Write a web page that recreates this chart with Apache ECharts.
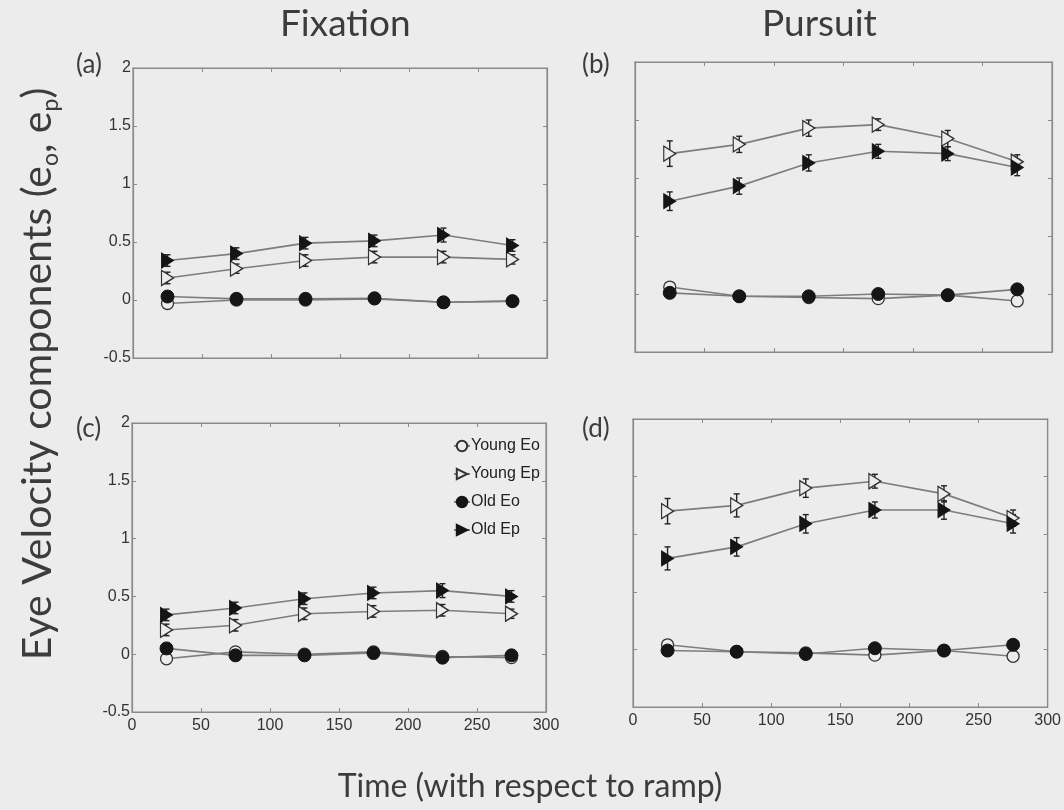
<!DOCTYPE html>
<html>
<head>
<meta charset="utf-8">
<script src="https://cdn.jsdelivr.net/npm/echarts@6/dist/echarts.min.js"></script>
<style>
html,body{margin:0;padding:0;background:#ececec;}
#chart{width:1064px;height:810px;}
</style>
</head>
<body>
<div id="chart"></div>
<script>
// ---- data ----
const times = [25, 75, 125, 175, 225, 275];
const yTicks = [-0.5, 0, 0.5, 1, 1.5, 2];
const seriesNames = ['Young Eo', 'Young Ep', 'Old Eo', 'Old Ep'];

// (a) Fixation, top
const a_youngEo = [-0.03, 0.00, 0.00, 0.01, -0.02, -0.01];
const a_youngEp = [0.19, 0.27, 0.34, 0.37, 0.37, 0.35];
const a_oldEo   = [0.03, 0.01, 0.01, 0.015, -0.02, -0.01];
const a_oldEp   = [0.34, 0.40, 0.49, 0.51, 0.56, 0.47];
const a_errYoungEp = [0.05, 0.04, 0.05, 0.05, 0.05, 0.04];
const a_errOldEp   = [0.05, 0.05, 0.05, 0.05, 0.06, 0.05];

// (b) Pursuit, top
const b_youngEo = [0.06, -0.02, -0.03, -0.04, -0.01, -0.06];
const b_youngEp = [1.21, 1.29, 1.43, 1.46, 1.34, 1.14];
const b_oldEo   = [0.01, -0.02, -0.02, 0.00, -0.01, 0.04];
const b_oldEp   = [0.80, 0.93, 1.13, 1.23, 1.21, 1.09];
const b_errYoungEp = [0.11, 0.07, 0.07, 0.05, 0.07, 0.06];
const b_errOldEp   = [0.08, 0.07, 0.07, 0.06, 0.06, 0.07];

// (c) Fixation, bottom
const c_youngEo = [-0.04, 0.02, 0.00, 0.02, -0.02, -0.03];
const c_youngEp = [0.21, 0.25, 0.35, 0.37, 0.38, 0.35];
const c_oldEo   = [0.05, -0.01, -0.01, 0.01, -0.03, -0.01];
const c_oldEp   = [0.34, 0.40, 0.48, 0.53, 0.55, 0.50];
const c_errYoungEp = [0.05, 0.05, 0.05, 0.05, 0.05, 0.04];
const c_errOldEp   = [0.05, 0.05, 0.05, 0.05, 0.06, 0.05];

// (d) Pursuit, bottom
const d_youngEo = [0.04, -0.02, -0.03, -0.05, -0.01, -0.06];
const d_youngEp = [1.20, 1.25, 1.40, 1.46, 1.35, 1.14];
const d_oldEo   = [-0.01, -0.02, -0.04, 0.01, -0.01, 0.04];
const d_oldEp   = [0.79, 0.89, 1.09, 1.21, 1.21, 1.09];
const d_errYoungEp = [0.11, 0.10, 0.08, 0.06, 0.07, 0.07];
const d_errOldEp   = [0.10, 0.08, 0.08, 0.07, 0.08, 0.08];

const panels = [
  {label:'(a)', yo:a_youngEo, yp:a_youngEp, oo:a_oldEo, op:a_oldEp, eyp:a_errYoungEp, eop:a_errOldEp},
  {label:'(b)', yo:b_youngEo, yp:b_youngEp, oo:b_oldEo, op:b_oldEp, eyp:b_errYoungEp, eop:b_errOldEp},
  {label:'(c)', yo:c_youngEo, yp:c_youngEp, oo:c_oldEo, op:c_oldEp, eyp:c_errYoungEp, eop:c_errOldEp},
  {label:'(d)', yo:d_youngEo, yp:d_youngEp, oo:d_oldEo, op:d_oldEp, eyp:d_errYoungEp, eop:d_errOldEp}
];

// ---- layout / style ----
const BG = '#ececec';
const grids = [
  {left:133, top:68, width:414, height:290},
  {left:635, top:62, width:417, height:290},
  {left:132, top:423, width:414, height:289},
  {left:633, top:419, width:415, height:288}
];
const tickFont = '"Liberation Sans Narrow","Liberation Sans",Arial,sans-serif';
const triPath = 'path://M0,0L10,6L0,12Z';

const chart = echarts.init(document.getElementById('chart'), null, {renderer:'canvas'});

const xAxes = [], yAxes = [], series = [];
grids.forEach((g, i) => {
  const showX = i >= 2, showY = (i % 2) === 0;
  const baseX = {
    type:'value', gridIndex:i, min:0, max:300, interval:50,
    axisLine:{show:true, onZero:false, lineStyle:{color:'#8a8a8a', width:1.2}},
    splitLine:{show:false}
  };
  xAxes.push(Object.assign({}, baseX, {
    position:'bottom',
    axisTick:{show:true, inside:true, length:4, lineStyle:{color:'#8a8a8a'}},
    axisLabel:{show:showX, color:'#333', fontFamily:tickFont, fontSize:16, margin:6}
  }));
  xAxes.push(Object.assign({}, baseX, {
    position:'top',
    axisTick:{show:true, inside:true, length:4, lineStyle:{color:'#8a8a8a'}},
    axisLabel:{show:false}
  }));
  const baseY = {
    type:'value', gridIndex:i, min:-0.5, max:2, interval:0.5,
    axisLine:{show:true, onZero:false, lineStyle:{color:'#8a8a8a', width:1.2}},
    splitLine:{show:false}
  };
  yAxes.push(Object.assign({}, baseY, {
    position:'left',
    axisTick:{show:true, inside:true, length:4, lineStyle:{color:'#8a8a8a'}},
    axisLabel:{show:showY, color:'#333', fontFamily:tickFont, fontSize:16, margin:2,
      formatter: v => String(v)}
  }));
  yAxes.push(Object.assign({}, baseY, {
    position:'right',
    axisTick:{show:true, inside:true, length:4, lineStyle:{color:'#8a8a8a'}},
    axisLabel:{show:false}
  }));
});

function errRender(params, api) {
  const x = api.value(0), y = api.value(1), e = api.value(2);
  const hi = api.coord([x, y + e]);
  const lo = api.coord([x, y - e]);
  const w = 3;
  const st = {stroke:'#222', lineWidth:1.4};
  return {type:'group', children:[
    {type:'line', shape:{x1:hi[0], y1:hi[1], x2:lo[0], y2:lo[1]}, style:st},
    {type:'line', shape:{x1:hi[0]-w, y1:hi[1], x2:hi[0]+w, y2:hi[1]}, style:st},
    {type:'line', shape:{x1:lo[0]-w, y1:lo[1], x2:lo[0]+w, y2:lo[1]}, style:st}
  ]};
}

panels.forEach((p, i) => {
  const xi = i * 2, yi = i * 2;
  const pair = arr => times.map((t, k) => [t, arr[k]]);
  const triple = (arr, err) => times.map((t, k) => [t, arr[k], err[k]]);
  [[p.yp, p.eyp], [p.op, p.eop]].forEach(([v, e]) => {
    series.push({
      type:'custom', xAxisIndex:xi, yAxisIndex:yi, renderItem:errRender,
      data:triple(v, e), encode:{x:0, y:1}, z:1, silent:true
    });
  });
  const lineBase = {type:'line', xAxisIndex:xi, yAxisIndex:yi, z:3,
    lineStyle:{color:'#7d7d7d', width:1.6}, animation:false};
  series.push(Object.assign({}, lineBase, {
    name:'Young Eo', data:pair(p.yo), symbol:'circle', symbolSize:12,
    itemStyle:{color:BG, borderColor:'#333', borderWidth:1.3}
  }));
  series.push(Object.assign({}, lineBase, {
    name:'Young Ep', data:pair(p.yp), symbol:triPath, symbolSize:[12,15],
    itemStyle:{color:BG, borderColor:'#333', borderWidth:1.3}
  }));
  series.push(Object.assign({}, lineBase, {
    name:'Old Eo', data:pair(p.oo), symbol:'circle', symbolSize:13,
    itemStyle:{color:'#151515', borderColor:'#151515', borderWidth:1}
  }));
  series.push(Object.assign({}, lineBase, {
    name:'Old Ep', data:pair(p.op), symbol:triPath, symbolSize:[12,15],
    itemStyle:{color:'#151515', borderColor:'#151515', borderWidth:1}
  }));
});

const titleFont = 'Lato, "Open Sans", sans-serif';
const graphics = [
  {type:'text', left:280, top:6, style:{text:'Fixation', font:'37px ' + titleFont, fill:'#3c3c3c'}},
  {type:'text', left:762, top:6, style:{text:'Pursuit', font:'37px ' + titleFont, fill:'#3c3c3c'}},
  {type:'text', left:76, top:52, style:{text:'(a)', font:'26px ' + titleFont, fill:'#3c3c3c'}},
  {type:'text', left:582, top:52, style:{text:'(b)', font:'26px ' + titleFont, fill:'#3c3c3c'}},
  {type:'text', left:76, top:416, style:{text:'(c)', font:'26px ' + titleFont, fill:'#3c3c3c'}},
  {type:'text', left:582, top:416, style:{text:'(d)', font:'26px ' + titleFont, fill:'#3c3c3c'}},
  {type:'text', x:530, y:787, style:{text:'Time (with respect to ramp)', font:'32px ' + titleFont,
    fill:'#3c3c3c', textAlign:'center', textVerticalAlign:'middle'}},
  {type:'text', x:38, y:374, rotation:Math.PI/2,
    style:{text:'Eye Velocity components (e{s|o}, e{s|p})', fontFamily:titleFont, fontSize:41,
      fill:'#3c3c3c', textAlign:'center', textVerticalAlign:'middle', lineHeight:48,
      rich:{s:{fontSize:23, lineHeight:23, verticalAlign:'bottom', fill:'#3c3c3c', fontFamily:titleFont}}}}
];

chart.setOption({
  backgroundColor:BG,
  animation:false,
  grid: grids.map(g => Object.assign({show:true, backgroundColor:BG, borderColor:'#8a8a8a', borderWidth:1.2, containLabel:false}, g)),
  xAxis:xAxes,
  yAxis:yAxes,
  legend:{
    data:seriesNames, orient:'vertical', left:448, top:433, itemGap:12,
    itemWidth:16, itemHeight:13,
    textStyle:{fontFamily:tickFont, fontSize:16, color:'#222', padding:[0,0,0,-4]},
    selectedMode:false
  },
  series:series,
  graphic:graphics
});
</script>
</body>
</html>
